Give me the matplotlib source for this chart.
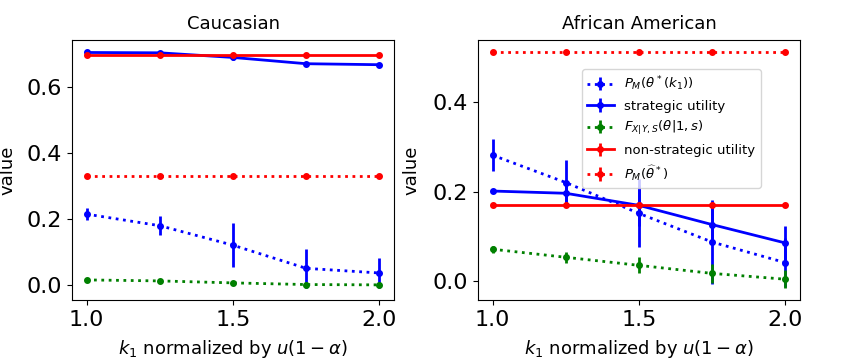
import matplotlib
matplotlib.use("Agg")
import matplotlib.pyplot as plt
import numpy as np

k1 = [1.0, 1.25, 1.5, 1.75, 2.0]

# Caucasian
cau_pm = [0.215, 0.180, 0.121, 0.051, 0.037]
cau_pm_err = [0.019, 0.029, 0.067, 0.060, 0.045]
cau_strat = [0.704, 0.703, 0.689, 0.670, 0.667]
cau_strat_err = [0.002, 0.002, 0.008, 0.006, 0.003]
cau_f = [0.016, 0.013, 0.007, 0.002, 0.001]
cau_f_err = [0.002, 0.002, 0.002, 0.002, 0.001]
cau_nonstrat = [0.697, 0.697, 0.697, 0.697, 0.697]
cau_pm_hat = [0.331, 0.331, 0.331, 0.331, 0.331]

# African American
aa_pm = [0.282, 0.221, 0.152, 0.088, 0.042]
aa_pm_err = [0.036, 0.050, 0.076, 0.093, 0.055]
aa_strat = [0.202, 0.197, 0.170, 0.127, 0.086]
aa_strat_err = [0.003, 0.020, 0.045, 0.042, 0.037]
aa_f = [0.072, 0.054, 0.036, 0.018, 0.005]
aa_f_err = [0.008, 0.012, 0.018, 0.022, 0.020]
aa_nonstrat = [0.171, 0.171, 0.171, 0.171, 0.171]
aa_pm_hat = [0.513, 0.513, 0.513, 0.513, 0.513]

fig = plt.figure(figsize=(8.46, 3.63), dpi=100)
ax1 = fig.add_axes([72/846, 1-300/363, 322/846, 260/363])
ax2 = fig.add_axes([478/846, 1-300/363, 322/846, 260/363])

def draw(ax, pm, pm_err, strat, strat_err, f, f_err, nonstrat, pm_hat, title):
    kw = dict(marker='o', markersize=4, linewidth=2, elinewidth=2)
    ax.errorbar(k1, pm, yerr=pm_err, color='blue', linestyle=':', label=r'$P_M(\theta^*(k_1))$', **kw)
    ax.errorbar(k1, strat, yerr=strat_err, color='blue', linestyle='-', label='strategic utility', **kw)
    ax.errorbar(k1, f, yerr=f_err, color='green', linestyle=':', label=r'$F_{X|Y,S}(\theta|1,s)$', **kw)
    ax.errorbar(k1, nonstrat, yerr=[0]*5, color='red', linestyle='-', label='non-strategic utility', **kw)
    ax.errorbar(k1, pm_hat, yerr=[0]*5, color='red', linestyle=':', label=r'$P_M(\widehat{\theta}^*)$', **kw)
    ax.set_title(title, fontsize=13, pad=8)
    ax.set_xlabel(r'$k_1$ normalized by $u(1-\alpha)$', fontsize=13, labelpad=6)
    ax.set_ylabel('value', fontsize=13)
    ax.set_xticks([1.0, 1.5, 2.0])
    ax.tick_params(labelsize=16)

draw(ax1, cau_pm, cau_pm_err, cau_strat, cau_strat_err, cau_f, cau_f_err, cau_nonstrat, cau_pm_hat, 'Caucasian')
draw(ax2, aa_pm, aa_pm_err, aa_strat, aa_strat_err, aa_f, aa_f_err, aa_nonstrat, aa_pm_hat, 'African American')
ax1.set_yticks([0.0, 0.2, 0.4, 0.6])
ax2.set_yticks([0.0, 0.2, 0.4])
ax1.yaxis.set_label_coords(-0.172, 0.5)
ax2.yaxis.set_label_coords(-0.178, 0.5)
ax2.legend(loc='upper left', bbox_to_anchor=(0.323, 0.888), borderaxespad=0, fontsize=9.5)

fig.savefig('out.png', dpi=100)
